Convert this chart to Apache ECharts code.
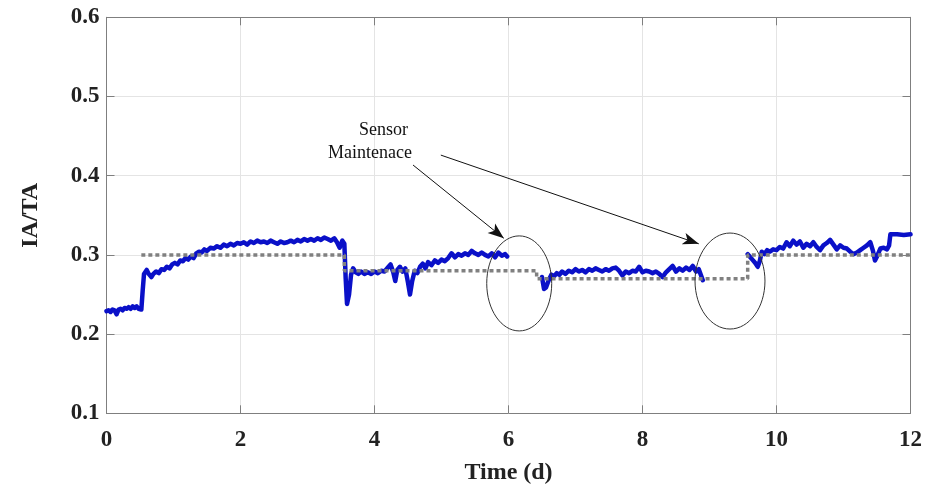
<!DOCTYPE html>
<html><head><meta charset="utf-8">
<script src="https://cdn.jsdelivr.net/npm/echarts@6/dist/echarts.min.js"></script>
<style>html,body{margin:0;padding:0;background:#fff}#c{width:928px;height:485px}</style>
</head><body><div id="c"></div>
<script>
// Measured IA/TA (blue). '-' marks sensor maintenance gaps.
const measured = [
[0.00,0.229],[0.03,0.230],[0.06,0.228],[0.09,0.231],[0.12,0.230],[0.15,0.225],[0.18,0.231],[0.21,0.232],[0.24,0.230],[0.27,0.233],
[0.30,0.232],[0.33,0.234],[0.36,0.232],[0.39,0.235],[0.42,0.233],[0.45,0.235],[0.48,0.232],[0.52,0.231],[0.54,0.255],[0.56,0.276],
[0.60,0.281],[0.63,0.276],[0.67,0.272],[0.70,0.276],[0.74,0.279],[0.78,0.277],[0.82,0.282],[0.86,0.281],[0.90,0.285],[0.94,0.283],
[0.98,0.288],[1.02,0.290],[1.06,0.288],[1.10,0.293],[1.14,0.292],[1.18,0.296],[1.22,0.294],[1.26,0.298],[1.30,0.296],[1.34,0.302],
[1.38,0.304],[1.42,0.303],[1.46,0.307],[1.50,0.305],[1.55,0.309],[1.60,0.308],[1.65,0.311],[1.70,0.309],[1.75,0.313],[1.80,0.311],
[1.85,0.314],[1.90,0.312],[1.95,0.315],[2.00,0.314],[2.05,0.316],[2.10,0.313],[2.15,0.317],[2.20,0.315],[2.25,0.318],[2.30,0.316],
[2.35,0.317],[2.40,0.315],[2.45,0.318],[2.50,0.316],[2.55,0.314],[2.60,0.317],[2.65,0.315],[2.70,0.316],[2.75,0.318],[2.80,0.316],
[2.85,0.319],[2.90,0.317],[2.95,0.320],[3.00,0.318],[3.05,0.320],[3.10,0.318],[3.15,0.321],[3.20,0.319],[3.25,0.322],[3.30,0.320],
[3.35,0.318],[3.40,0.321],[3.44,0.316],[3.48,0.309],[3.52,0.318],[3.55,0.314],[3.57,0.270],[3.59,0.238],[3.62,0.250],[3.65,0.275],
[3.68,0.283],[3.72,0.278],[3.76,0.276],[3.80,0.279],[3.85,0.276],[3.90,0.278],[3.95,0.276],[4.00,0.279],[4.05,0.277],[4.10,0.280],
[4.15,0.279],[4.20,0.284],[4.24,0.288],[4.28,0.278],[4.31,0.267],[4.34,0.281],[4.38,0.285],[4.42,0.279],[4.46,0.283],[4.50,0.265],
[4.53,0.250],[4.56,0.266],[4.60,0.280],[4.64,0.277],[4.68,0.285],[4.72,0.289],[4.76,0.283],[4.80,0.291],[4.85,0.287],[4.90,0.293],
[4.95,0.290],[5.00,0.294],[5.05,0.292],[5.10,0.296],[5.15,0.302],[5.20,0.297],[5.25,0.301],[5.30,0.299],[5.35,0.302],[5.40,0.300],
[5.45,0.305],[5.50,0.302],[5.55,0.300],[5.60,0.303],[5.65,0.300],[5.70,0.298],[5.75,0.302],[5.80,0.297],[5.85,0.303],[5.90,0.299],
[5.95,0.301],[5.98,0.298],[6.20,'-'],
[6.50,0.272],[6.53,0.257],[6.56,0.259],[6.60,0.268],[6.64,0.275],[6.68,0.273],[6.72,0.277],[6.76,0.275],[6.80,0.279],[6.85,0.276],
[6.90,0.280],[6.95,0.278],[7.00,0.282],[7.05,0.279],[7.10,0.281],[7.15,0.278],[7.20,0.282],[7.25,0.280],[7.30,0.283],[7.35,0.281],
[7.40,0.279],[7.45,0.282],[7.50,0.280],[7.55,0.283],[7.60,0.284],[7.65,0.280],[7.70,0.274],[7.75,0.279],[7.80,0.277],[7.85,0.280],
[7.90,0.279],[7.95,0.285],[8.00,0.278],[8.05,0.280],[8.10,0.279],[8.15,0.277],[8.20,0.279],[8.25,0.276],[8.30,0.272],[8.35,0.278],
[8.40,0.282],[8.45,0.286],[8.50,0.279],[8.55,0.283],[8.60,0.280],[8.65,0.284],[8.70,0.281],[8.75,0.286],[8.80,0.279],[8.84,0.282],
[8.87,0.275],[8.90,0.268],[9.20,'-'],
[9.57,0.301],[9.60,0.298],[9.64,0.294],[9.68,0.290],[9.72,0.285],[9.75,0.292],[9.78,0.304],[9.82,0.301],[9.86,0.306],[9.90,0.304],
[9.95,0.307],[10.00,0.306],[10.05,0.310],[10.10,0.308],[10.15,0.316],[10.20,0.311],[10.25,0.318],[10.30,0.313],[10.35,0.317],[10.40,0.309],
[10.45,0.314],[10.50,0.311],[10.55,0.316],[10.60,0.310],[10.65,0.306],[10.70,0.312],[10.75,0.315],[10.80,0.319],[10.85,0.313],[10.90,0.307],
[10.95,0.312],[11.00,0.309],[11.05,0.308],[11.10,0.304],[11.15,0.301],[11.20,0.303],[11.25,0.306],[11.30,0.309],[11.35,0.312],[11.40,0.316],
[11.44,0.305],[11.47,0.293],[11.50,0.298],[11.55,0.308],[11.60,0.309],[11.65,0.307],[11.68,0.312],[11.70,0.326],[11.80,0.326],[11.90,0.325],
[12.00,0.326]
];
// Reference / setpoint (grey dotted step line)
const reference = [[0.52,0.30],[3.55,0.30],[3.55,0.28],[6.42,0.28],[6.42,0.27],[9.57,0.27],[9.57,0.30],[12.0,0.30]];
const xTicks = [0,2,4,6,8,10,12];
const yTicks = [0.1,0.2,0.3,0.4,0.5,0.6];
// Annotation anchors in data coordinates
const noteLines = [{text:'Sensor', x:4.50, y:0.4577},{text:'Maintenace', x:4.56, y:0.4287}];
const arrows = [[[4.575,0.4135],[5.93,0.321]],[[4.99,0.426],[8.84,0.314]]];
const ellipses = [{x:6.16, y:0.264, hw:0.485, hh:0.060},{x:9.306, y:0.267, hw:0.522, hh:0.0606}];

const chart = echarts.init(document.getElementById('c'), null, {renderer:'canvas'});
const F = 'Liberation Serif';
const frame = '#7f7f7f';
const common = {
  axisLine:{show:true, onZero:false, lineStyle:{color:frame, width:1}},
  axisTick:{show:true, inside:true, length:8, lineStyle:{color:frame}},
};
chart.setOption({
  animation:false,
  grid:{left:106.5, right:17.5, top:17.3, bottom:71.7, containLabel:false, outerBoundsMode:'none'},
  xAxis:[
    Object.assign({type:'value', min:0, max:12, interval:2, position:'bottom',
      name:'Time (d)', nameLocation:'middle', nameGap:47,
      nameTextStyle:{fontFamily:F, fontWeight:'bold', fontSize:24, color:'#222'},
      axisLabel:{fontFamily:F, fontWeight:'bold', fontSize:23, color:'#222', margin:15},
      splitLine:{show:true, lineStyle:{color:'#e4e4e4', width:1}}}, common),
    Object.assign({type:'value', min:0, max:12, interval:2, position:'top',
      axisLabel:{show:false}, splitLine:{show:false}}, common)
  ],
  yAxis:[
    Object.assign({type:'value', min:0.1, max:0.6, interval:0.1, position:'left',
      name:'IA/TA', nameLocation:'middle', nameGap:64,
      nameTextStyle:{fontFamily:F, fontWeight:'bold', fontSize:24, color:'#222'},
      axisLabel:{fontFamily:F, fontWeight:'bold', fontSize:23, color:'#222', margin:7,
        formatter:v=>v.toFixed(1)},
      splitLine:{show:true, lineStyle:{color:'#e4e4e4', width:1}}}, common),
    Object.assign({type:'value', min:0.1, max:0.6, interval:0.1, position:'right',
      axisLabel:{show:false}, splitLine:{show:false}}, common)
  ],
  series:[
    {type:'line', data:measured, showSymbol:false, symbol:'none', connectNulls:false,
     lineStyle:{color:'#0a10c8', width:4.5, join:'round', cap:'round'}, z:2},
    {type:'line', data:reference, showSymbol:false, symbol:'none',
     lineStyle:{color:'#808080', width:3.5, type:[4,3]}, z:3,
     markLine:{silent:true, symbol:['none','arrow'], symbolSize:[9,16], label:{show:false},
       lineStyle:{color:'#111', width:1, type:'solid'},
       data: arrows.map(a=>[{coord:a[0]},{coord:a[1]}])}}
  ]
});
function px(p){ return chart.convertToPixel({xAxisIndex:0, yAxisIndex:0}, p); }
const g = [];
ellipses.forEach(e=>{
  const c = px([e.x,e.y]), r = px([e.x+e.hw, e.y+e.hh]);
  g.push({type:'ellipse', shape:{cx:c[0], cy:c[1], rx:r[0]-c[0], ry:c[1]-r[1]},
    style:{fill:'none', stroke:'#333', lineWidth:1}, z:10});
});
noteLines.forEach(n=>{
  const p = px([n.x,n.y]);
  g.push({type:'text', x:p[0], y:p[1], style:{text:n.text, fontFamily:F, fontSize:18,
    fill:'#111', align:'right', verticalAlign:'middle'}, z:10});
});
chart.setOption({graphic:g});
</script></body></html>
